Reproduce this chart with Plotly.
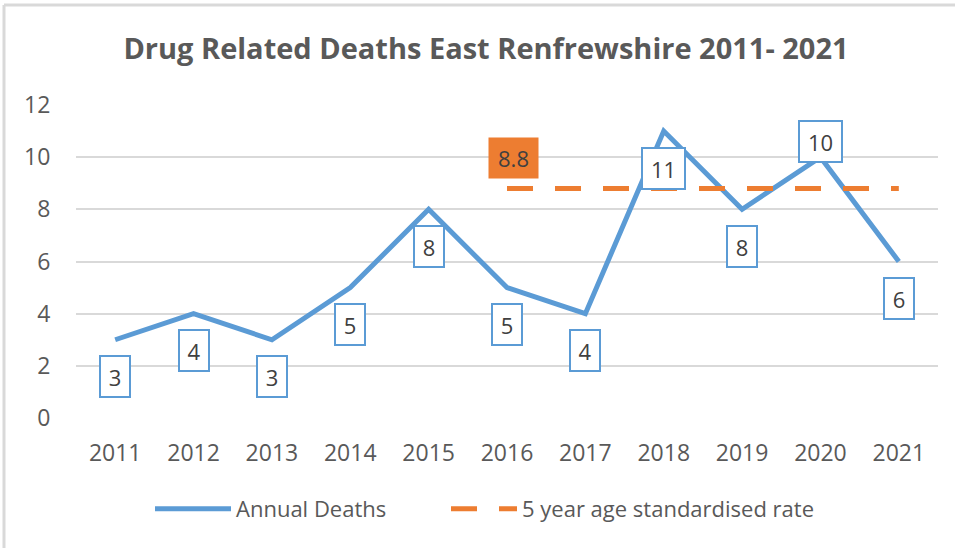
import plotly.graph_objects as go

# Chart data
years = ["2011", "2012", "2013", "2014", "2015", "2016", "2017", "2018", "2019", "2020", "2021"]
annual_deaths = [3, 4, 3, 5, 8, 5, 4, 11, 8, 10, 6]
rate_years = ["2016", "2017", "2018", "2019", "2020", "2021"]
rate_values = [8.8, 8.8, 8.8, 8.8, 8.8, 8.8]

BLUE = "#5B9BD5"
ORANGE = "#ED7D31"
GREY_TEXT = "#595959"
FONT = "Open Sans"

# Plot area in pixels (958x548 window)
W, H = 958, 548
L, R, T, B = 76, 20, 105, 130

fig = go.Figure()

fig.add_trace(
    go.Scatter(
        x=years,
        y=annual_deaths,
        name="Annual Deaths",
        mode="lines",
        line=dict(color=BLUE, width=5),
        legend="legend",
    )
)
fig.add_trace(
    go.Scatter(
        x=rate_years,
        y=rate_values,
        name="5 year age standardised rate",
        mode="lines",
        line=dict(color=ORANGE, width=5, dash="26px,22px"),
        legend="legend2",
    )
)

# Boxed data labels: below the point except 2020 (above)
# (category index used for x, numeric-looking category names confuse annotations)
for i, (yr, val) in enumerate(zip(years, annual_deaths)):
    shift = 16 if yr == "2020" else -37
    fig.add_annotation(
        x=i,
        y=val,
        xref="x",
        yref="y",
        text=str(val),
        showarrow=False,
        yshift=shift,
        font=dict(family=FONT, size=22, color="#404040"),
        bgcolor="white",
        bordercolor=BLUE,
        borderwidth=2,
        borderpad=0,
        width=28 if val < 10 else 41,
        height=39,
    )

# Rate label at the start of the dashed series
fig.add_annotation(
    x=years.index(rate_years[0]),
    y=rate_values[0],
    xref="x",
    yref="y",
    text=str(rate_values[0]),
    showarrow=False,
    xshift=6,
    yshift=30,
    font=dict(family=FONT, size=22, color="#404040"),
    bgcolor=ORANGE,
    borderpad=0,
    width=49,
    height=40,
)

# Light grey frame on the left and top of the chart
pw, ph = W - L - R, H - T - B
def px_x(p):
    return (p - L) / pw
def px_y(p):
    return (H - B - p) / ph

fig.add_shape(type="line", xref="paper", yref="paper",
              x0=px_x(4), x1=px_x(4), y0=px_y(5), y1=px_y(548),
              line=dict(color="#D9D9D9", width=3))
fig.add_shape(type="line", xref="paper", yref="paper",
              x0=px_x(4), x1=px_x(955), y0=px_y(5), y1=px_y(5),
              line=dict(color="#D9D9D9", width=3))

legend_style = dict(
    orientation="h",
    xanchor="left",
    y=px_y(509),
    yanchor="middle",
    font=dict(family=FONT, size=22, color=GREY_TEXT),
    itemwidth=76,
)

fig.update_layout(
    width=W,
    height=H,
    margin=dict(l=L, r=R, t=T, b=B),
    paper_bgcolor="white",
    plot_bgcolor="white",
    title=dict(
        text="<b>Drug Related Deaths East Renfrewshire 2011- 2021</b>",
        x=486 / W,
        xanchor="center",
        y=1 - 49 / H,
        yanchor="middle",
        font=dict(family=FONT, size=29, color=GREY_TEXT),
    ),
    showlegend=True,
    legend=dict(x=px_x(150), **legend_style),
    legend2=dict(x=px_x(446), itemwidth=66, **{k: v for k, v in legend_style.items() if k != "itemwidth"}),
)

fig.update_xaxes(
    type="category",
    range=[-0.5, 10.5],
    showgrid=False,
    showline=False,
    zeroline=False,
    ticks="outside",
    ticklen=14,
    tickcolor="rgba(0,0,0,0)",
    tickfont=dict(family=FONT, size=23, color=GREY_TEXT),
)
fig.update_yaxes(
    range=[0, 12],
    dtick=2,
    showgrid=True,
    gridcolor="#D9D9D9",
    gridwidth=1.5,
    zeroline=False,
    showline=False,
    ticks="outside",
    ticklen=20,
    tickcolor="rgba(0,0,0,0)",
    tickfont=dict(family=FONT, size=23, color=GREY_TEXT),
)

fig.write_html(
    "out.html",
    config={"displayModeBar": False},
    post_script="document.body.style.margin='0';",
)
